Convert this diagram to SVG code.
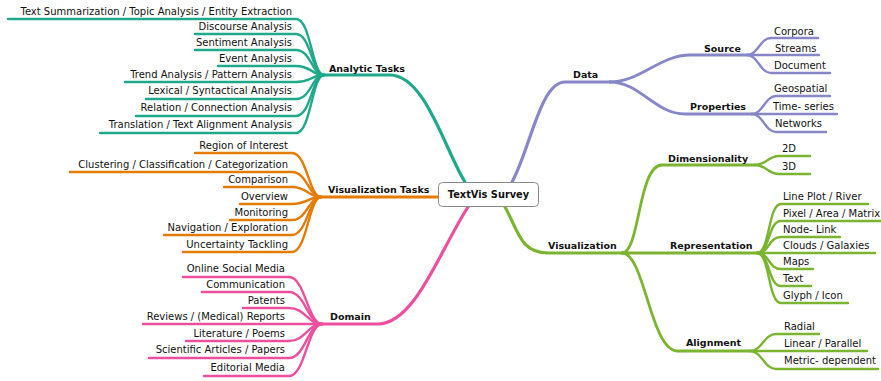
<svg xmlns="http://www.w3.org/2000/svg" width="881" height="381" viewBox="0 0 881 381">
<style>
text{font-family:"DejaVu Sans",Verdana,sans-serif;font-size:10px;fill:#111}
.b{font-weight:bold;font-size:9.5px}
.c{font-weight:bold;font-size:9.8px;text-anchor:middle}
.e{text-anchor:end}
path{fill:none;stroke-linecap:round;stroke-width:2.4}
.m{stroke-width:3.2}
.s{stroke-width:2.8}
.tl{stroke:#1fa98a}
.or{stroke:#e47b05}
.pk{stroke:#ec4f9e}
.pu{stroke:#8787c7}
.gr{stroke:#7bb430}
</style>
<g id="connectors">
<g class="tl">
<path class="m" d="M465 182 C445 150 425 75 390 75 H324"/>
<path d="M8 19 H296 C311 19 312 75 324 75"/>
<path d="M195 34 H296 C311 34 312 75 324 75"/>
<path d="M195 50 H296 C311 50 312 75 324 75"/>
<path d="M218 66 H296 C311 66 312 75 324 75"/>
<path d="M125 82 H296 C311 82 312 75 324 75"/>
<path d="M146 99 H296 C311 99 312 75 324 75"/>
<path d="M136 116 H296 C311 116 312 75 324 75"/>
<path d="M100 133 H296 C311 133 312 75 324 75"/>
</g>
<g class="or">
<path class="m" d="M438 197 H321"/>
<path d="M195 153 H292 C307 153 309 197 321 197"/>
<path d="M70 172 H292 C307 172 309 197 321 197"/>
<path d="M224 187 H292 C307 187 309 197 321 197"/>
<path d="M240 204 H292 C307 204 309 197 321 197"/>
<path d="M230 220 H292 C307 220 309 197 321 197"/>
<path d="M164 235 H292 C307 235 309 197 321 197"/>
<path d="M183 252 H292 C307 252 309 197 321 197"/>
</g>
<g class="pk">
<path class="m" d="M468 207 C440 250 415 324 378 324 H322"/>
<path d="M183 277 H289 C305 277 308 324 322 324"/>
<path d="M202 292 H289 C305 292 308 324 322 324"/>
<path d="M243 308 H289 C305 308 308 324 322 324"/>
<path d="M143 324 H322"/>
<path d="M186 341 H289 C305 341 308 324 322 324"/>
<path d="M149 358 H289 C305 358 308 324 322 324"/>
<path d="M204 376 H289 C305 376 308 324 322 324"/>
</g>
<g class="pu">
<path class="m" d="M512 182 C530 150 540 82 565 82 H610"/>
<path class="s" d="M610 82 C640 82 660 55 690 55 H747"/>
<path class="s" d="M610 82 C640 82 655 114 685 114 H752"/>
<path d="M747 55 C758 55 760 38 771 38 H818"/>
<path d="M747 55 H819"/>
<path d="M747 55 C758 55 760 73 771 73 H830"/>
<path d="M752 114 C763 114 765 96 776 96 H830"/>
<path d="M752 114 H837"/>
<path d="M752 114 C763 114 765 132 776 132 H826"/>
</g>
<g class="gr">
<path class="m" d="M505 207 C518 230 520 253 548 253 H622"/>
<path class="s" d="M622 253 C640 253 638 165 662 165 H755"/>
<path class="s" d="M622 253 H757"/>
<path class="s" d="M622 253 C645 253 650 351 678 351 H750"/>
<path d="M755 165 C766 165 768 156 779 156 H810"/>
<path d="M755 165 C766 165 768 174 779 174 H810"/>
<path d="M757 253 C770 253 768 204 781 204 H868"/>
<path d="M757 253 C770 253 768 221 781 221 H885"/>
<path d="M757 253 C770 253 768 237 781 237 H840"/>
<path d="M757 253 H875"/>
<path d="M757 253 C770 253 768 269 781 269 H813"/>
<path d="M757 253 C770 253 768 286 781 286 H811"/>
<path d="M757 253 C770 253 768 303 781 303 H848"/>
<path d="M750 351 C762 351 764 334 776 334 H819"/>
<path d="M750 351 H867"/>
<path d="M750 351 C762 351 764 369 776 369 H878"/>
</g>
</g>
<g id="center">
<rect x="438.5" y="182.5" width="100" height="24" rx="4" fill="#fff" stroke="#8a8a8a" stroke-width="1"/>
<text class="c" x="488.5" y="198">TextVis Survey</text>
</g>
<g id="analytic-tasks"><text class="b" x="329" y="72">Analytic Tasks</text></g>
<g id="at-1"><text class="e" x="292" y="15">Text Summarization / Topic Analysis / Entity Extraction</text></g>
<g id="at-2"><text class="e" x="292" y="30">Discourse Analysis</text></g>
<g id="at-3"><text class="e" x="292" y="46">Sentiment Analysis</text></g>
<g id="at-4"><text class="e" x="292" y="62">Event Analysis</text></g>
<g id="at-5"><text class="e" x="292" y="78">Trend Analysis / Pattern Analysis</text></g>
<g id="at-6"><text class="e" x="292" y="94">Lexical / Syntactical Analysis</text></g>
<g id="at-7"><text class="e" x="292" y="111">Relation / Connection Analysis</text></g>
<g id="at-8"><text class="e" x="292" y="128">Translation / Text Alignment Analysis</text></g>
<g id="visualization-tasks"><text class="b" x="328" y="193">Visualization Tasks</text></g>
<g id="vt-1"><text class="e" x="288" y="149">Region of Interest</text></g>
<g id="vt-2"><text class="e" x="288" y="168">Clustering / Classification / Categorization</text></g>
<g id="vt-3"><text class="e" x="288" y="183">Comparison</text></g>
<g id="vt-4"><text class="e" x="288" y="200">Overview</text></g>
<g id="vt-5"><text class="e" x="288" y="216">Monitoring</text></g>
<g id="vt-6"><text class="e" x="288" y="231">Navigation / Exploration</text></g>
<g id="vt-7"><text class="e" x="288" y="248">Uncertainty Tackling</text></g>
<g id="domain"><text class="b" x="330" y="320">Domain</text></g>
<g id="d-1"><text class="e" x="285" y="272">Online Social Media</text></g>
<g id="d-2"><text class="e" x="285" y="288">Communication</text></g>
<g id="d-3"><text class="e" x="285" y="304">Patents</text></g>
<g id="d-4"><text class="e" x="285" y="320">Reviews / (Medical) Reports</text></g>
<g id="d-5"><text class="e" x="285" y="337">Literature / Poems</text></g>
<g id="d-6"><text class="e" x="285" y="353">Scientific Articles / Papers</text></g>
<g id="d-7"><text class="e" x="285" y="371">Editorial Media</text></g>
<g id="data"><text class="b" x="573" y="78">Data</text></g>
<g id="source"><text class="b" x="704" y="52">Source</text></g>
<g id="s-1"><text x="774" y="35">Corpora</text></g>
<g id="s-2"><text x="775" y="52">Streams</text></g>
<g id="s-3"><text x="774" y="69">Document</text></g>
<g id="properties"><text class="b" x="690" y="110">Properties</text></g>
<g id="p-1"><text x="774" y="92">Geospatial</text></g>
<g id="p-2"><text x="773" y="110">Time- series</text></g>
<g id="p-3"><text x="775" y="127">Networks</text></g>
<g id="visualization"><text class="b" x="548" y="249">Visualization</text></g>
<g id="dimensionality"><text class="b" x="668" y="162">Dimensionality</text></g>
<g id="dm-1"><text x="782" y="152">2D</text></g>
<g id="dm-2"><text x="782" y="170">3D</text></g>
<g id="representation"><text class="b" x="670" y="249">Representation</text></g>
<g id="r-1"><text x="783" y="200">Line Plot / River</text></g>
<g id="r-2"><text x="783" y="217">Pixel / Area / Matrix</text></g>
<g id="r-3"><text x="783" y="233">Node- Link</text></g>
<g id="r-4"><text x="783" y="249">Clouds / Galaxies</text></g>
<g id="r-5"><text x="783" y="265">Maps</text></g>
<g id="r-6"><text x="783" y="282">Text</text></g>
<g id="r-7"><text x="783" y="299">Glyph / Icon</text></g>
<g id="alignment"><text class="b" x="686" y="346">Alignment</text></g>
<g id="a-1"><text x="784" y="330">Radial</text></g>
<g id="a-2"><text x="784" y="347">Linear / Parallel</text></g>
<g id="a-3"><text x="784" y="364">Metric- dependent</text></g>
</svg>
